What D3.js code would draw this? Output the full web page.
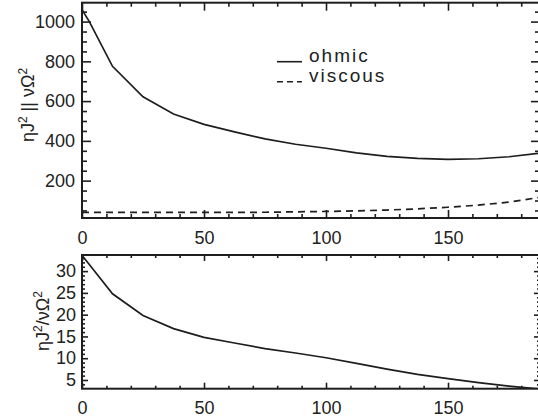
<!DOCTYPE html>
<html>
<head>
<meta charset="utf-8">
<script src="https://cdn.jsdelivr.net/npm/d3@7"></script>
<style>
  body { margin: 0; background: #fff; }
  svg { display: block; }
  text { font-family: "Liberation Sans", Arial, sans-serif; fill: #222; }
  .tick text { font-size: 18px; }
</style>
</head>
<body>
<svg id="chart"></svg>
<script>
// sample positions (x) and the three curves
const xVals   = [0, 3, 12.5, 25, 37.5, 50, 62.5, 75, 87.5, 100, 112.5, 125, 137.5, 150, 162.5, 175, 187.7];
const ohmic   = [1060, 1000, 775, 622, 535, 483, 445, 410, 383, 363, 340, 322, 312, 307, 310, 320, 338];
const viscous = [40, 40, 40, 40, 40, 40, 40, 41, 43, 45, 48, 52, 58, 66, 77, 92, 116];
const ratio   = [33.6, 31.5, 24.8, 19.8, 16.8, 14.8, 13.5, 12.2, 11.2, 10.1, 8.8, 7.5, 6.3, 5.3, 4.4, 3.6, 2.9];

const xTicks = [0, 50, 100, 150];
const topYTicks = [200, 400, 600, 800, 1000];
const botYTicks = [5, 10, 15, 20, 25, 30];

const width = 538, height = 419;
const svg = d3.select("#chart").attr("width", width).attr("height", height);

const left = 82, right = 540;
const x = d3.scaleLinear().domain([0, 187.7]).range([left, right]);

const yTop = d3.scaleLinear().domain([12, 1095]).range([218, 2.7]);
const yBot = d3.scaleLinear().domain([3.0, 33.7]).range([388.7, 255]);

const ink = "#1e1e1e";
const fmt = d3.format("d");

function panel(y, yMajor, yMinor, yMajLen, yMinLen, xMajLen, xMinLen, labPad) {
  const g = svg.append("g");
  const y0 = y.range()[0], y1 = y.range()[1];
  const xMinor = d3.range(0, 188, 10).filter(v => v % 50 !== 0);

  // bottom x axis with labels
  g.append("g").attr("transform", `translate(0,${y0})`)
    .call(d3.axisBottom(x).tickValues(xTicks).tickSize(-xMajLen).tickPadding(13).tickFormat(fmt));
  g.append("g").attr("transform", `translate(0,${y0})`)
    .call(d3.axisBottom(x).tickValues(xMinor).tickSize(-xMinLen).tickFormat(""));
  // top x axis, ticks only
  g.append("g").attr("transform", `translate(0,${y1})`)
    .call(d3.axisTop(x).tickValues(xTicks).tickSize(-xMajLen).tickFormat(""));
  g.append("g").attr("transform", `translate(0,${y1})`)
    .call(d3.axisTop(x).tickValues(xMinor).tickSize(-xMinLen).tickFormat(""));

  // left y axis with labels
  g.append("g").attr("transform", `translate(${left},0)`)
    .call(d3.axisLeft(y).tickValues(yMajor).tickSize(-yMajLen).tickPadding(labPad).tickFormat(fmt));
  g.append("g").attr("transform", `translate(${left},0)`)
    .call(d3.axisLeft(y).tickValues(yMinor).tickSize(-yMinLen).tickFormat(""));
  // right y axis, ticks only
  g.append("g").attr("transform", `translate(${right},0)`)
    .call(d3.axisRight(y).tickValues(yMajor).tickSize(-yMajLen).tickFormat(""));
  g.append("g").attr("transform", `translate(${right},0)`)
    .call(d3.axisRight(y).tickValues(yMinor).tickSize(-yMinLen).tickFormat(""));

  g.selectAll(".domain").remove();
  g.selectAll(".tick line").attr("stroke", ink).attr("stroke-width", 1.6);

  g.append("rect")
    .attr("x", left).attr("y", y1)
    .attr("width", right - left).attr("height", y0 - y1)
    .attr("fill", "none").attr("stroke", ink).attr("stroke-width", 2);
  return g;
}

const topMinor = d3.range(50, 1095, 50).filter(v => v % 200 !== 0);
const botMinor = d3.range(4, 34, 1).filter(v => v % 5 !== 0);

panel(yTop, topYTicks, topMinor, 9, 5, 8, 4, 7);
panel(yBot, botYTicks, botMinor, 6, 3, 6, 3, 6);

// clip paths for the curves
const defs = svg.append("defs");
defs.append("clipPath").attr("id", "clipTop").append("rect")
  .attr("x", left).attr("y", 2.7).attr("width", right - left).attr("height", 218 - 2.7);
defs.append("clipPath").attr("id", "clipBot").append("rect")
  .attr("x", left).attr("y", 255).attr("width", right - left).attr("height", 388.7 - 255);

const lineTop = d3.line().x((d, i) => x(xVals[i])).y(d => yTop(d));
const lineBot = d3.line().x((d, i) => x(xVals[i])).y(d => yBot(d));

svg.append("path").datum(ohmic).attr("d", lineTop).attr("clip-path", "url(#clipTop)")
  .attr("fill", "none").attr("stroke", ink).attr("stroke-width", 1.7);
svg.append("path").datum(viscous).attr("d", lineTop).attr("clip-path", "url(#clipTop)")
  .attr("fill", "none").attr("stroke", ink).attr("stroke-width", 1.7).attr("stroke-dasharray", "7,5");
svg.append("path").datum(ratio).attr("d", lineBot).attr("clip-path", "url(#clipBot)")
  .attr("fill", "none").attr("stroke", ink).attr("stroke-width", 1.7);

// legend
const legend = [
  { name: "ohmic", dash: null, y: 61.7 },
  { name: "viscous", dash: "6,4", y: 81.7 }
];
legend.forEach(l => {
  svg.append("line").attr("x1", 277).attr("x2", 302).attr("y1", l.y).attr("y2", l.y)
    .attr("stroke", ink).attr("stroke-width", 1.6).attr("stroke-dasharray", l.dash);
  svg.append("text").attr("x", 309).attr("y", l.y + 0.3)
    .style("font-size", "19px").style("letter-spacing", "2px").text(l.name);
});

// y titles
function yTitle(cx, cy, parts) {
  const t = svg.append("text")
    .attr("transform", `translate(${cx},${cy}) rotate(-90)`)
    .attr("text-anchor", "middle")
    .style("font-size", "18px");
  parts.forEach(p => {
    const s = t.append("tspan").text(p.t);
    if (p.sup) s.attr("baseline-shift", "super").style("font-size", "12px");
  });
}
yTitle(34, 105, [{ t: "ηJ" }, { t: "2", sup: true }, { t: " || νΩ" }, { t: "2", sup: true }]);
yTitle(49, 321, [{ t: "ηJ" }, { t: "2", sup: true }, { t: "/νΩ" }, { t: "2", sup: true }]);
</script>
</body>
</html>
